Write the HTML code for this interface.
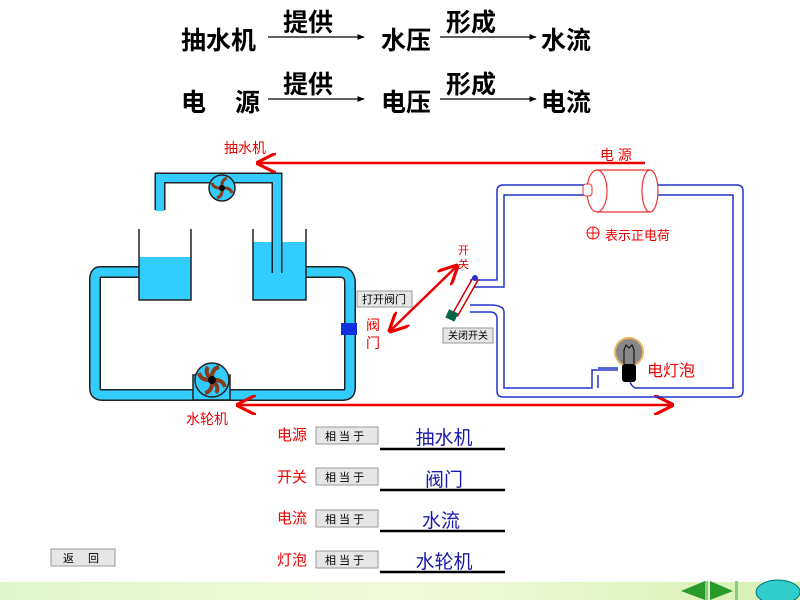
<!DOCTYPE html>
<html><head><meta charset="utf-8"><style>
body{margin:0;width:800px;height:600px;overflow:hidden;background:#fff;font-family:"Liberation Sans","Noto Sans CJK SC",sans-serif}
</style></head><body>
<svg width="800" height="600" xmlns="http://www.w3.org/2000/svg" font-family="Liberation Sans, Noto Sans CJK SC, sans-serif">
<defs>
<marker id="ah" viewBox="0 0 10 10" refX="9" refY="5" markerWidth="8" markerHeight="8" orient="auto-start-reverse"><path d="M0,0 L10,5 L0,10" fill="none" stroke="#e00" stroke-width="1.6"/></marker>
<marker id="bk" viewBox="0 0 10 10" refX="9" refY="5" markerWidth="6" markerHeight="6" orient="auto"><path d="M0,1 L10,5 L0,9z" fill="#000"/></marker>
<linearGradient id="band" x1="0" x2="1"><stop offset="0" stop-color="#dff5c8"/><stop offset="0.5" stop-color="#f2fadc"/><stop offset="1" stop-color="#d6f0b0"/></linearGradient>
</defs>
<!-- top text -->
<g font-size="25" font-weight="bold" fill="#000">
<text x="181" y="49">抽水机</text><text x="381" y="49">水压</text><text x="541" y="49">水流</text>
<text x="181" y="111">电</text><text x="235" y="111">源</text><text x="381" y="111">电压</text><text x="541" y="111">电流</text>
<text x="283" y="31">提供</text><text x="446" y="31">形成</text>
<text x="283" y="93">提供</text><text x="446" y="93">形成</text>
</g>
<g stroke="#000" stroke-width="1.2" marker-end="url(#bk)">
<line x1="268" y1="37" x2="364" y2="37"/><line x1="440" y1="37" x2="536" y2="37"/>
<line x1="268" y1="99" x2="364" y2="99"/><line x1="440" y1="99" x2="536" y2="99"/>
</g>
<!-- water loop -->
<path d="M139,272 L100,272 Q95,272 95,280 L95,388 Q95,395 102,395 L343,395 Q350,395 350,388 L350,283 Q350,272 340,272 L306,272" fill="none" stroke="#222" stroke-width="12"/>
<path d="M139,272 L100,272 Q95,272 95,280 L95,388 Q95,395 102,395 L343,395 Q350,395 350,388 L350,283 Q350,272 340,272 L306,272" fill="none" stroke="#33ccff" stroke-width="9"/>
<!-- beakers -->
<rect x="139" y="257" width="52" height="43" fill="#33ccff"/>
<rect x="253" y="242" width="53" height="58" fill="#33ccff"/>
<path d="M139,229 V300 H191 V229 M253,229 V300 H306 V229" fill="none" stroke="#222" stroke-width="1.5"/>
<!-- top pipe -->
<path d="M160,210 V178 H277 V273" fill="none" stroke="#222" stroke-width="11"/>
<path d="M160,211 V178 H277 V273" fill="none" stroke="#33ccff" stroke-width="8"/>
<!-- pumps -->
<circle cx="222" cy="188" r="13" fill="#33ccff" stroke="#222" stroke-width="1.5"/>
<g stroke="#8b3a1a" stroke-width="3" fill="none"><path d="M222,188 q-1,-8 5,-10"/><path d="M222,188 q8,-1 10,5"/><path d="M222,188 q1,8 -5,10"/><path d="M222,188 q-8,1 -10,-5"/></g>
<circle cx="222" cy="188" r="3" fill="#000"/>
<rect x="193" y="375" width="37" height="25" fill="#33ccff" stroke="#222" stroke-width="1.5"/>
<circle cx="212" cy="380" r="17" fill="#33ccff" stroke="#222" stroke-width="1.5"/>
<g stroke="#8b3a1a" stroke-width="4" fill="none"><path d="M212,380 q-1,-11 7,-13"/><path d="M212,380 q11,-1 13,7"/><path d="M212,380 q1,11 -7,13"/><path d="M212,380 q-11,1 -13,-7"/><path d="M212,380 q-8,-7 -4,-13"/><path d="M212,380 q8,7 4,13"/></g>
<circle cx="212" cy="380" r="4" fill="#000"/>
<rect x="341" y="323" width="16" height="12" fill="#1030e0"/>
<!-- red labels arrows -->
<g fill="#e00" font-size="14">
<text x="224" y="153">抽水机</text><text x="600" y="160">电 源</text><text x="186" y="424">水轮机</text>
<text x="366" y="330">阀</text><text x="366" y="348">门</text>
<text x="458" y="254" font-size="11">开</text><text x="458" y="268" font-size="11">关</text>
<text x="605" y="240" font-size="13">表示正电荷</text><text x="647" y="376" font-size="16">电灯泡</text>
</g>
<g stroke="#e00" stroke-width="2.5" fill="none">
<line x1="645" y1="163" x2="258" y2="163" marker-end="url(#ah)"/>
<line x1="238" y1="405" x2="672" y2="405" marker-end="url(#ah)" marker-start="url(#ah)"/>
<line x1="390" y1="331" x2="457" y2="266" marker-end="url(#ah)" marker-start="url(#ah)"/>
</g>
<circle cx="593" cy="233" r="6" fill="none" stroke="#e00"/><path d="M587,233h12M593,227v12" stroke="#e00"/>
<!-- circuit -->
<g fill="none" stroke="#2233cc" stroke-width="1.5">
<path d="M587,185 H503 Q497,185 497,191 V280 H470"/>
<path d="M587,195 H504 V287 H470"/>
<path d="M658,185 H737 Q743,185 743,191 V391 Q743,397 737,397 H503 Q497,397 497,391 V319 Q497,312 490,312 H470"/>
<path d="M658,195 H733 V388 H635 Q630,385 630,380"/>
<path d="M470,305 H490 Q504,305 504,312 V388 H592 V370 H618"/>
<path d="M598,368 H618 M598,375 V388"/>
</g>
<path d="M597,170 H650 M597,212 H650" stroke="#e33" stroke-width="1.2"/>
<ellipse cx="597" cy="191" rx="10" ry="21" fill="#fff" stroke="#e33" stroke-width="1.2"/>
<ellipse cx="650" cy="191" rx="8" ry="21" fill="none" stroke="#e33" stroke-width="1.2"/>
<rect x="583" y="184" width="9" height="12" rx="3" fill="#fff" stroke="#e33"/>
<circle cx="629" cy="352" r="14" fill="#888" stroke="#e8b060" stroke-width="2"/>
<path d="M624,364 V350 l2,-5 3,3 3,-3 2,5 V364" fill="none" stroke="#000"/>
<rect x="622" y="364" width="14" height="18" rx="3" fill="#000"/>
<path d="M476,278 L455,315" stroke="#c00" stroke-width="7"/><path d="M476,278 L455,315" stroke="#fff" stroke-width="4"/>
<circle cx="475" cy="278" r="3" fill="#2233cc"/>
<rect x="447" y="311" width="10" height="9" fill="#064" transform="rotate(25 452 315)"/>
<!-- buttons -->
<g font-size="11" fill="#000">
<rect x="357" y="291" width="55" height="16" fill="#e6e6e6" stroke="#999"/><text x="362" y="303">打开阀门</text>
<rect x="443" y="328" width="50" height="15" fill="#e6e6e6" stroke="#999"/><text x="448" y="339" font-size="10">关闭开关</text>
<rect x="51" y="549" width="64" height="17" fill="#e6e6e6" stroke="#999"/><text x="63" y="562">返　 回</text>
</g>
<g font-size="15">
<g fill="#e00"><text x="277" y="440">电源</text><text x="277" y="482">开关</text><text x="277" y="523">电流</text><text x="277" y="565">灯泡</text></g>
<g fill="#e6e6e6" stroke="#999"><rect x="316" y="427" width="62" height="17"/><rect x="316" y="468" width="62" height="17"/><rect x="316" y="510" width="62" height="17"/><rect x="316" y="551" width="62" height="17"/></g>
<g fill="#000" font-size="11"><text x="325" y="440">相 当 于</text><text x="325" y="481">相 当 于</text><text x="325" y="523">相 当 于</text><text x="325" y="564">相 当 于</text></g>
<g stroke="#000" stroke-width="2.5"><line x1="380" y1="449" x2="505" y2="449"/><line x1="380" y1="490" x2="505" y2="490"/><line x1="380" y1="531" x2="505" y2="531"/><line x1="380" y1="572" x2="505" y2="572"/></g>
<g fill="#1a1aaa" font-size="19" text-anchor="middle"><text x="444" y="444">抽水机</text><text x="444" y="486">阀门</text><text x="441" y="527">水流</text><text x="444" y="568">水轮机</text></g>
</g>
<rect x="0" y="582" width="800" height="18" fill="url(#band)"/>
<path d="M681,591 L705,581 V600 Z" fill="#2a9a2a"/><rect x="705" y="581" width="3" height="19" fill="#8c8"/>
<path d="M733,591 L710,581 V600 Z" fill="#2a9a2a"/><rect x="735" y="581" width="3" height="19" fill="#8c8"/>
<ellipse cx="778" cy="592" rx="22" ry="12" fill="#3cc" stroke="#077"/>
</svg>
</body></html>
